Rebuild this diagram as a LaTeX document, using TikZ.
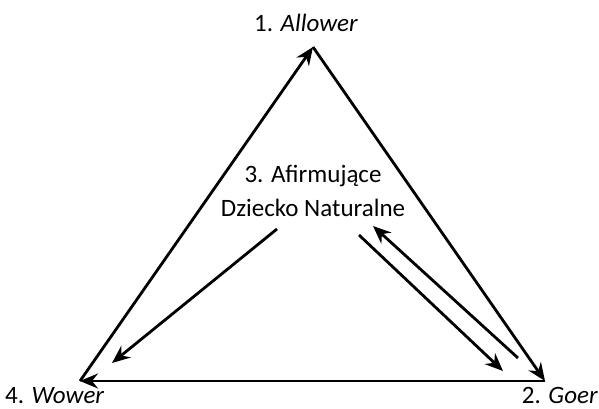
\documentclass[tikz,border=0pt]{standalone}
\usepackage{fontspec}
\setmainfont{Carlito}
\usetikzlibrary{arrows.meta}
\begin{document}
\begin{tikzpicture}[x=1pt,y=1pt,
  conn/.style={line width=2.8pt,-{Stealth[length=18pt,width=15pt,inset=6pt]}},
  lbl/.style={inner sep=0pt,font=\fontsize{25}{30}\selectfont}]
\useasboundingbox (0,0) rectangle (599,408);
\coordinate (A) at (313,361);
\coordinate (G) at (545,27);
\coordinate (W) at (80,27);
\node[lbl,anchor=base] (tA) at (306,376) {1. \textit{Allower}};
\node[lbl,anchor=base east] (tG) at (598,5) {2. \textit{Goer}};
\node[lbl,anchor=base west] (tW) at (5,5) {4. \textit{Wower}};
\node[lbl,align=center,anchor=base] (tC) at (313,192) {3. Afirmujące\\[4pt]Dziecko Naturalne};
\coordinate (c1s) at (277,179);
\coordinate (c1e) at (112,45);
\coordinate (c2s) at (359,173);
\coordinate (c2e) at (503,37);
\coordinate (c3s) at (518,50);
\coordinate (c3e) at (373,182);
\draw[conn] (A) -- (G);
\draw[conn] (G) -- (W);
\draw[conn] (W) -- (A);
\draw[conn] (c1s) -- (c1e);
\draw[conn] (c2s) -- (c2e);
\draw[conn] (c3s) -- (c3e);
\end{tikzpicture}
\end{document}
